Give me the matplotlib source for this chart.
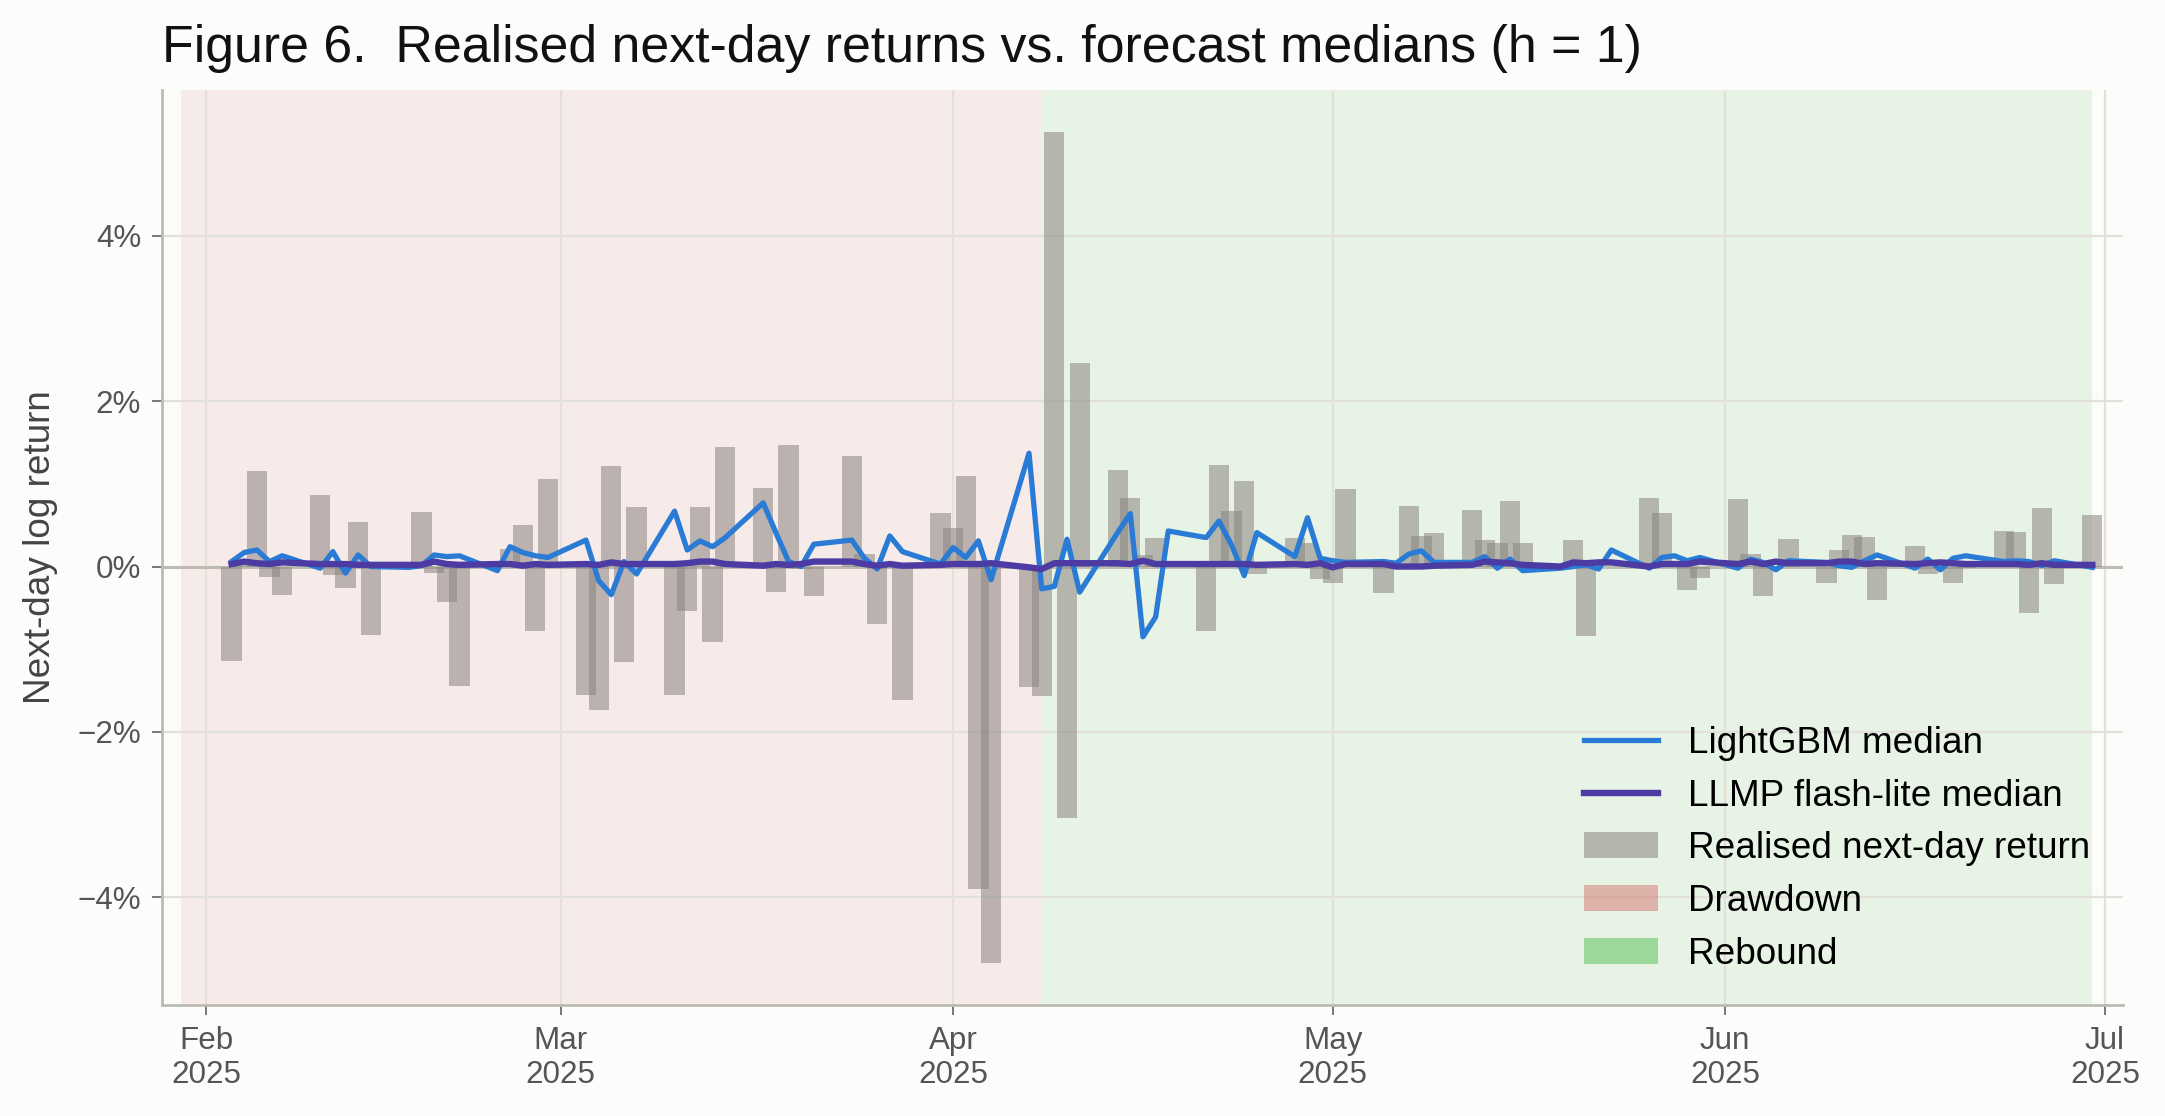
import matplotlib
matplotlib.use("Agg")
import matplotlib.pyplot as plt
import matplotlib.dates as mdates
from matplotlib.patches import Patch
from matplotlib.lines import Line2D
from matplotlib.ticker import PercentFormatter, MultipleLocator
import pandas as pd

plt.rcParams['font.family'] = ['Liberation Sans', 'DejaVu Sans']

# business days, Feb 3 .. Jun 30 2025
dates = pd.bdate_range("2025-02-03", "2025-06-30")

# realised next-day log return, in %
realised = [
    # Feb
    -1.14, 0.02, 1.15, -0.13, -0.35, 0.86, -0.10, -0.26, 0.54, -0.83,
    0.01, 0.66, -0.08, -0.43, -1.44, 0.02, 0.21, 0.50, -0.78, 1.06,
    # Mar
    -1.55, -1.74, 1.22, -1.15, 0.72, -1.55, -0.54, 0.72, -0.91, 1.45,
    0.95, -0.31, 1.47, -0.03, -0.36, 1.34, 0.15, -0.70, 0.01, -1.61, 0.65,
    # Apr
    0.46, 1.10, -3.90, -4.80, -1.46, -1.57, 5.26, -3.04, 2.46, 1.17,
    0.83, 0.14, 0.34, 0.00, -0.78, 1.23, 0.67, 1.03, -0.09, 0.34, 0.29, -0.15,
    # May
    -0.20, 0.94, -0.32, 0.00, 0.73, 0.37, 0.40, 0.68, 0.32, 0.28,
    0.79, 0.28, 0.00, 0.32, -0.84, 0.00, 0.00, 0.83, 0.65, 0.00, -0.28, -0.14,
    # Jun
    0.82, 0.15, -0.36, 0.00, 0.33, -0.20, 0.20, 0.38, 0.36, -0.40,
    0.25, -0.09, 0.00, -0.20, -0.02, 0.43, 0.42, -0.56, 0.71, -0.21, 0.62,
]

lgbm_median = [
    0.06, 0.17, 0.20, 0.06, 0.13, -0.02, 0.18, -0.08, 0.14, 0.00,
    -0.01, 0.01, 0.14, 0.12, 0.13, -0.05, 0.24, 0.17, 0.13, 0.11,
    0.32, -0.17, -0.34, 0.06, -0.09, 0.67, 0.20, 0.31, 0.24, 0.35,
    0.77, 0.41, 0.06, 0.00, 0.27, 0.32, 0.10, -0.03, 0.37, 0.18, 0.03,
    0.23, 0.11, 0.31, -0.16, 1.37, -0.27, -0.24, 0.33, -0.31, 0.41,
    0.64, -0.85, -0.61, 0.43, 0.35, 0.55, 0.26, -0.11, 0.41, 0.12, 0.59, 0.10,
    0.07, 0.05, 0.06, 0.04, 0.15, 0.19, 0.05, 0.05, 0.12, -0.02,
    0.09, -0.05, -0.02, 0.00, 0.02, -0.03, 0.20, -0.02, 0.11, 0.13, 0.07, 0.11,
    -0.02, 0.09, 0.05, -0.04, 0.07, 0.05, 0.01, -0.01, 0.07, 0.14,
    -0.02, 0.09, -0.04, 0.10, 0.13, 0.06, 0.07, 0.06, 0.01, 0.07, -0.01,
]

llmp_median = [
    0.03, 0.06, 0.04, 0.03, 0.05, 0.03, 0.03, 0.03, 0.02, 0.02,
    0.02, 0.02, 0.06, 0.03, 0.02, 0.03, 0.03, 0.01, 0.03, 0.02,
    0.03, 0.02, 0.05, 0.03, 0.03, 0.03, 0.04, 0.06, 0.06, 0.03,
    0.01, 0.03, 0.02, 0.03, 0.06, 0.06, 0.03, 0.01, 0.03, 0.01, 0.02,
    0.03, 0.03, 0.03, 0.04, -0.01, -0.03, 0.04, 0.04, 0.04, 0.04,
    0.03, 0.07, 0.03, 0.03, 0.03, 0.03, 0.03, 0.03, 0.02, 0.03, 0.02, 0.04,
    -0.01, 0.03, 0.03, 0.00, 0.00, 0.00, 0.01, 0.02, 0.06, 0.05,
    0.04, 0.02, 0.00, 0.05, 0.04, 0.05, 0.05, 0.00, 0.03, 0.03, 0.03, 0.06,
    0.03, 0.06, 0.03, 0.06, 0.04, 0.04, 0.06, 0.06, 0.03, 0.04,
    0.03, 0.04, 0.05, 0.04, 0.03, 0.03, 0.03, 0.02, 0.04, 0.02, 0.02,
]

drawdown = ("2025-01-30", "2025-04-08")
rebound = ("2025-04-08", "2025-06-30")

bg = "#fcfcfa"
c_lgbm = "#2a7bd6"
c_llmp = "#4b3ba3"
c_bar = "#8a8480"
c_dd = "#d67470"
c_rb = "#52bd50"

fig = plt.figure(figsize=(10.825, 5.58), dpi=200, facecolor=bg)
ax = fig.add_axes([0.0748, 0.0995, 0.906, 0.8198], facecolor=bg)

ax.axvspan(pd.Timestamp(drawdown[0]), pd.Timestamp(drawdown[1]),
           color=c_dd, alpha=0.12, lw=0, zorder=0.5)
ax.axvspan(pd.Timestamp(rebound[0]), pd.Timestamp(rebound[1]),
           color=c_rb, alpha=0.12, lw=0, zorder=0.5)

ax.axhline(0, color="#bdbbb2", lw=1.1, zorder=1.6)
ax.bar(dates, realised, width=1.6, color=c_bar, alpha=0.55, lw=0, zorder=2)
ax.plot(dates, lgbm_median, color=c_lgbm, lw=1.9, zorder=3)
ax.plot(dates, llmp_median, color=c_llmp, lw=2.3, zorder=4)

ax.set_xlim(pd.Timestamp("2025-01-28 12:00"), pd.Timestamp("2025-07-02 11:00"))
ax.xaxis.set_major_locator(mdates.MonthLocator())
ax.xaxis.set_major_formatter(mdates.DateFormatter("%b\n%Y"))
ax.yaxis.set_major_locator(MultipleLocator(2))
ax.yaxis.set_major_formatter(PercentFormatter(xmax=100, decimals=0))

ax.grid(True, color="#e2e0da", lw=0.8, zorder=1)
for s in ("top", "right"):
    ax.spines[s].set_visible(False)
for s in ("left", "bottom"):
    ax.spines[s].set_color("#bdbcb2")
    ax.spines[s].set_linewidth(1.0)
ax.tick_params(colors="#777777", labelcolor="#555555", labelsize=11.3,
               length=3.5, width=0.7, pad=4)

ax.set_ylabel("Next-day log return", fontsize=13.3, color="#444444", labelpad=7)
ax.set_title("Figure 6.  Realised next-day returns vs. forecast medians (h = 1)",
             loc="left", fontsize=18.7, color="#111111", pad=10)

handles = [
    Line2D([], [], color=c_lgbm, lw=1.9),
    Line2D([], [], color=c_llmp, lw=2.3),
    Patch(facecolor=c_bar, alpha=0.55, lw=0),
    Patch(facecolor=c_dd, alpha=0.5, lw=0),
    Patch(facecolor=c_rb, alpha=0.5, lw=0),
]
labels = ["LightGBM median", "LLMP flash-lite median",
          "Realised next-day return", "Drawdown", "Rebound"]
ax.legend(handles, labels, loc="lower right", frameon=False, fontsize=13.3,
          labelspacing=0.48, handlelength=2.0, handletextpad=0.82)

fig.savefig("out.png", dpi=200, facecolor=bg)
